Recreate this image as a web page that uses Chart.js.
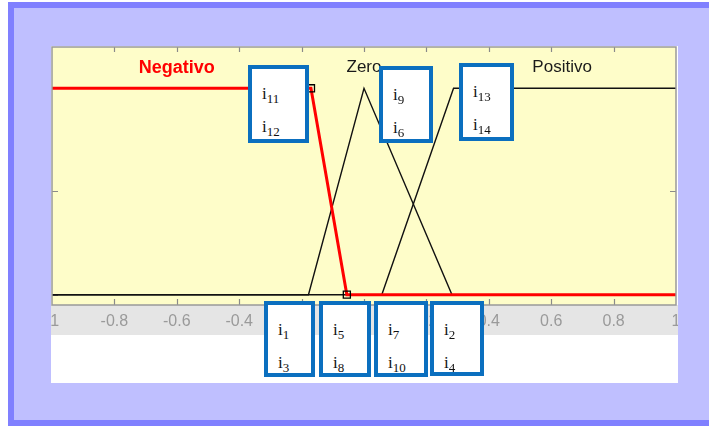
<!DOCTYPE html>
<html><head><meta charset="utf-8">
<script src="https://cdn.jsdelivr.net/npm/chart.js@4"></script>
<style>
html,body{margin:0;padding:0;background:#fff;width:709px;height:426px;overflow:hidden;}
body{position:relative;}
#frame{position:absolute;left:8px;top:2px;width:720px;height:412px;border-top:6px solid #8080ff;border-left:6px solid #8080ff;border-bottom:6px solid #8080ff;background:#bfbfff;}
#wrap{position:absolute;left:51px;top:46px;width:627px;height:337px;background:#fff;}
.box{position:absolute;box-sizing:border-box;border:4px solid #0b6fbf;background:#fff;font-family:"Liberation Serif","Times New Roman",serif;font-size:17px;line-height:32px;color:#111;padding-top:9px;padding-left:10px;}
.box div{white-space:nowrap;}
.box span{font-size:13px;position:relative;top:4px;}
</style></head>
<body>
<div id="frame"></div>
<div id="wrap"><canvas id="c" width="627" height="337"></canvas></div>
<script>
// ---- data ----
const xTickMin = -1, xTickMax = 1, xTickStep = 0.2;
const yTickVals = [0, 0.5, 1];
const mfNames = ['Negativo', 'Zero', 'Positivo'];
const mfLabelX = [-0.6, 0, 0.635];
const mfLabelY = [1.1, 1.1, 1.1];
const negX = [-1, -0.17, -0.055, 1];
const negY = [1, 1, 0, 0];
const zeroX = [-1, -0.178, 0, 0.282, 1];
const zeroY = [0, 0, 1, 0, 0];
const posX = [-1, 0.057, 0.287, 1];
const posY = [0, 0, 1, 1];
const boxLabels = [["11","12"],["9","6"],["13","14"],["1","3"],["5","8"],["7","10"],["2","4"]];

// ---- layout (page px) ----
const boxRects = [[248,65,61,78],[379,66,54,77],[459,63,55,78],[264,301,51,76],[319,301,52,76],[374,301,54,76],[430,301,54,75]];

const pts = (xs, ys) => xs.map((x, i) => ({x, y: ys[i]}));

const decor = {
  id: 'decor',
  beforeDraw(chart) {
    const {ctx, chartArea: a, width, height} = chart;
    ctx.save();
    ctx.fillStyle = '#ffffff'; ctx.fillRect(0, 0, width, height);
    ctx.fillStyle = '#e5e5e5'; ctx.fillRect(0, a.bottom, width, 30);
    ctx.fillStyle = '#fefdc9'; ctx.fillRect(a.left, a.top, a.right - a.left, a.bottom - a.top);
    ctx.restore();
  },
  beforeDatasetsDraw(chart) {
    const {ctx, chartArea: a, scales} = chart;
    ctx.save();
    ctx.strokeStyle = '#8a8a8a'; ctx.lineWidth = 1.2;
    scales.x.ticks.forEach(t => {
      if (t.value <= xTickMin + 1e-9 || t.value >= xTickMax - 1e-9) return;
      const px = Math.round(scales.x.getPixelForValue(t.value)) + 0.5;
      ctx.beginPath();
      ctx.moveTo(px, a.top); ctx.lineTo(px, a.top + 5);
      ctx.moveTo(px, a.bottom); ctx.lineTo(px, a.bottom - 6);
      ctx.stroke();
    });
    yTickVals.forEach(v => {
      const py = Math.round(scales.y.getPixelForValue(v)) + 0.5;
      ctx.beginPath();
      ctx.moveTo(a.left, py); ctx.lineTo(a.left + 6, py);
      ctx.moveTo(a.right, py); ctx.lineTo(a.right - 6, py);
      ctx.stroke();
    });
    ctx.restore();
  },
  afterDatasetsDraw(chart) {
    const {ctx, chartArea: a, scales} = chart;
    ctx.save();
    mfNames.forEach((n, i) => {
      ctx.font = (i === 0 ? 'bold 18px' : '17px') + ' "Liberation Sans", Arial, sans-serif';
      ctx.fillStyle = i === 0 ? '#ff0000' : '#1a1a1a';
      ctx.textAlign = 'center'; ctx.textBaseline = 'middle';
      ctx.fillText(n, scales.x.getPixelForValue(mfLabelX[i]), scales.y.getPixelForValue(mfLabelY[i]));
    });
    ctx.strokeStyle = '#999999'; ctx.lineWidth = 1.5;
    ctx.strokeRect(a.left, a.top, a.right - a.left, a.bottom - a.top);
    ctx.restore();
  }
};

new Chart(document.getElementById('c'), {
  type: 'line',
  data: {
    datasets: [
      {label: mfNames[0], data: pts(negX, negY), borderColor: '#ff0000', borderWidth: 3,
       pointRadius: [0, 5, 5, 0], pointStyle: 'rect', pointBorderColor: '#000', pointBackgroundColor: 'rgba(0,0,0,0)', pointBorderWidth: 1.3, tension: 0, fill: false},
      {label: mfNames[1], data: pts(zeroX, zeroY), borderColor: '#111', borderWidth: 1.4, pointRadius: 0, tension: 0, fill: false},
      {label: mfNames[2], data: pts(posX, posY), borderColor: '#111', borderWidth: 1.4, pointRadius: 0, tension: 0, fill: false}
    ]
  },
  options: {
    responsive: false, animation: false, devicePixelRatio: 1, events: [],
    layout: {autoPadding: false, padding: {left: 1, right: 2, top: 1, bottom: 48}},
    plugins: {legend: {display: false}, tooltip: {enabled: false}},
    scales: {
      x: {type: 'linear', min: xTickMin, max: xTickMax,
          afterFit: s => { s.height = 30; s.paddingLeft = 0; s.paddingRight = 0; },
          grid: {display: false, drawTicks: false}, border: {display: false},
          ticks: {stepSize: xTickStep, color: '#9a9a9a', padding: 7, maxRotation: 0, autoSkip: false,
                  callback: v => String(Math.round(v * 10) / 10),
                  font: {family: '"Liberation Sans", Arial, sans-serif', size: 16}}},
      y: {display: false, min: -0.05, max: 1.2}
    }
  },
  plugins: [decor]
});

boxLabels.forEach((lab, i) => {
  const r = boxRects[i];
  const d = document.createElement('div');
  d.className = 'box';
  d.style.left = r[0] + 'px'; d.style.top = r[1] + 'px';
  d.style.width = r[2] + 'px'; d.style.height = r[3] + 'px';
  d.innerHTML = lab.map(n => '<div>i<span>' + n + '</span></div>').join('');
  document.body.appendChild(d);
});
</script>
</body></html>
